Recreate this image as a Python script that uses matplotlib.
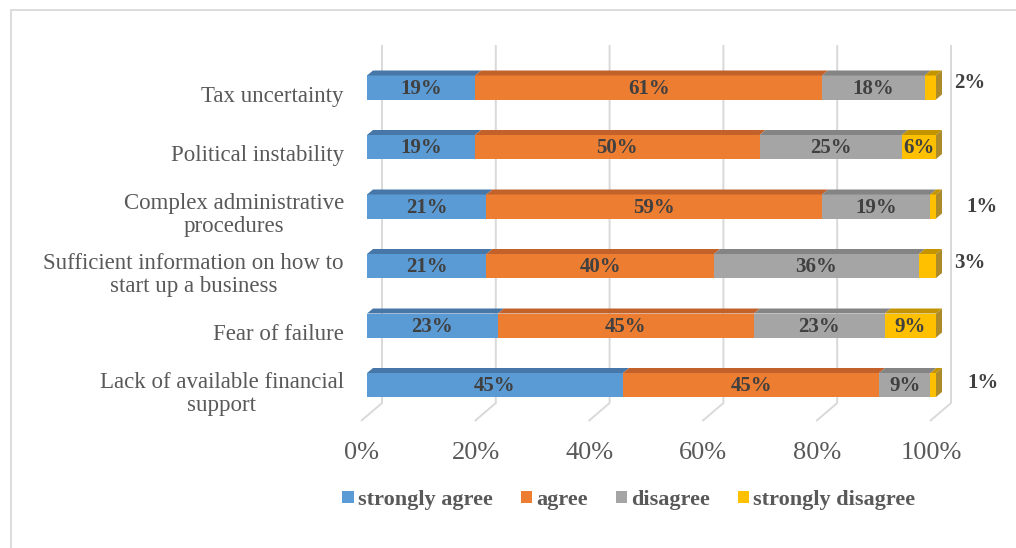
import numpy as np
import matplotlib.pyplot as plt
from matplotlib.patches import Polygon, Patch, Rectangle
from matplotlib.font_manager import FontProperties

# survey answers, top row first
categories = ["Tax uncertainty",
              "Political instability",
              "Complex administrative\nprocedures",
              "Sufficient information on how to\nstart up a business",
              "Fear of failure",
              "Lack of available financial\nsupport"]
strongly_agree = [19, 19, 21, 21, 23, 45]
agree = [61, 50, 59, 40, 45, 45]
disagree = [18, 25, 19, 36, 23, 9]
strongly_disagree = [2, 6, 1, 3, 9, 1]
series_names = ["strongly agree", "agree", "disagree", "strongly disagree"]
ticks = [0, 20, 40, 60, 80, 100]

front = ["#5B9BD5", "#ED7D31", "#A5A5A5", "#FFC000"]
top = ["#4677A8", "#C2622A", "#848484", "#C39400"]
side = "#AD8A2A"

serif = "Liberation Serif"
grey = "#595959"
dark = "#404040"

fig = plt.figure(figsize=(10.16, 5.48), dpi=100)
ax = fig.add_axes([0, 0, 1, 1])
# pixel geometry of the plot: 0% at x=367, 5.69 px per percent, rows 59.5 px apart
PX, PY, X0, Y0 = 5.69, 59.5, 367, 385
ax.set_xlim(-X0 / PX, (1016 - X0) / PX)
ax.set_ylim((Y0 - 548) / PY, Y0 / PY)
ax.axis("off")

# depth offsets of the fake 3D look
DX, DY = 6 / PX, 5 / PY           # bar depth
BACK = 15 / PX                    # back wall shift
FLOOR_X, FLOOR_Y = -6 / PX, -0.605
WALL_BOTTOM, WALL_TOP = -0.303, 5.714
H = 24 / PY

# gridlines on back wall and floor
for t in ticks:
    ax.plot([t + BACK, t + BACK, t + FLOOR_X], [WALL_TOP, WALL_BOTTOM, FLOOR_Y],
            color="#D9D9D9", lw=1.4, zorder=1, solid_capstyle="butt")
    ax.text(t - 0.9, -1.14, f"{t}%", ha="center", va="center",
            family=serif, fontsize=19, color=grey)

data = np.array([strongly_agree, agree, disagree, strongly_disagree], dtype=float)
n = len(categories)
ypos = np.arange(n)[::-1]
left = np.zeros(n)

for k in range(4):
    vals = data[k]
    ax.barh(ypos, vals, left=left, height=H, color=front[k], lw=0, zorder=3)
    for y, l, v in zip(ypos, left, vals):
        ytop = y + H / 2
        ax.add_patch(Polygon([(l, ytop), (l + v, ytop), (l + v + DX, ytop + DY), (l + DX, ytop + DY)],
                             closed=True, fc=top[k], lw=0, zorder=3))
        if k == 3:
            r = l + v
            ax.add_patch(Polygon([(r, y - H / 2), (r, ytop), (r + DX, ytop + DY), (r + DX, y - H / 2 + DY)],
                                 closed=True, fc=side, lw=0, zorder=3))
    left = left + vals

# value labels; the thin end slices get theirs to the right of the bar
outside_x = {0: 106.0, 2: 108.1, 3: 106.0, 5: 108.3}
outside_dy = {0: 0.076, 2: 0.0, 3: 0.05, 5: 0.03}
left = np.zeros(n)
for k in range(4):
    for row, (y, l, v) in enumerate(zip(ypos, left, data[k])):
        if k == 3 and row in outside_x:
            ax.text(outside_x[row], y + outside_dy[row], f"{int(v)}%", ha="center", va="center",
                    family=serif, fontsize=15, fontweight="bold", color=dark, zorder=5)
        else:
            ax.text(l + v / 2, y - 0.02, f"{int(v)}%", ha="center", va="center",
                    family=serif, fontsize=15, fontweight="bold", color=dark, zorder=5)
    left = left + data[k]

# category labels
for y, c in zip(ypos, categories):
    ax.text((344 - X0) / PX, y - 0.15, c, ha="right", va="center", multialignment="center",
            family=serif, fontsize=16.5, color=grey, linespacing=1.12)

handles = [Patch(facecolor=c, label=s) for c, s in zip(front, series_names)]
ax.legend(handles=handles, loc="center", bbox_to_anchor=(629 / 1016, 1 - 500 / 548),
          bbox_transform=fig.transFigure, ncol=4, frameon=False,
          handlelength=0.5, handleheight=0.5, handletextpad=0.2, columnspacing=1.25,
          prop=FontProperties(family=serif, weight="bold", size=16), labelcolor=grey)

# outer chart border, running off the right and bottom edges
fig.patches.append(Rectangle((11 / 1016, -0.1), 1.2, 1 - 10 / 548 + 0.1, transform=fig.transFigure,
                             fill=False, ec="#D9D9D9", lw=1.3))

fig.savefig("out.png", dpi=100)
